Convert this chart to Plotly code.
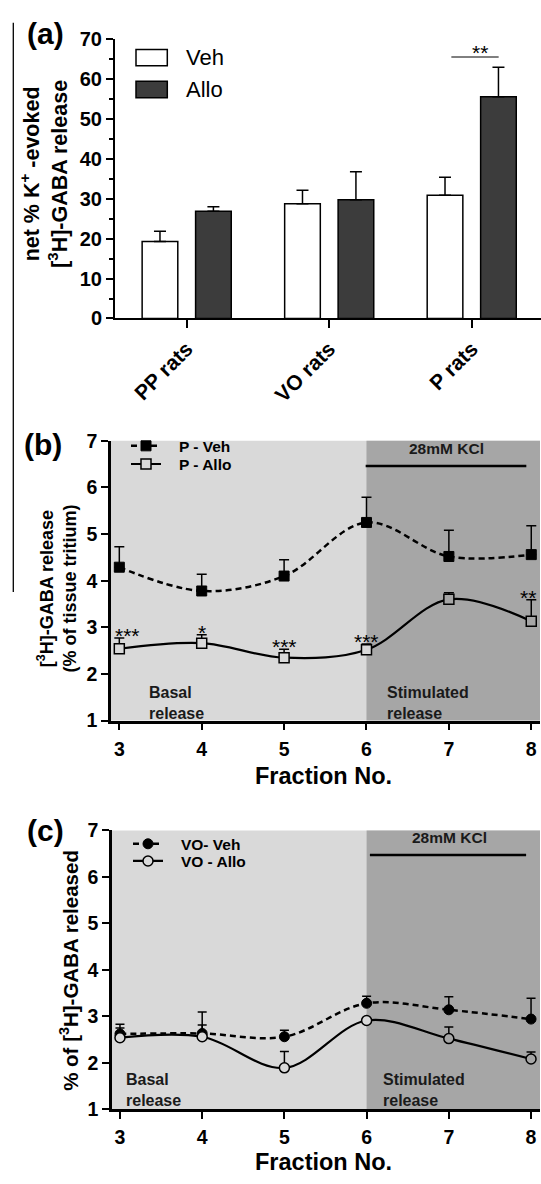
import plotly.graph_objects as go

# ---------------- data ----------------
# panel (a)
groups = ["PP rats", "VO rats", "P rats"]
veh_a = [19.3, 28.8, 30.9]
veh_a_err = [2.6, 3.4, 4.5]
allo_a = [26.9, 29.8, 55.6]
allo_a_err = [1.1, 7.0, 7.4]

# panel (b)
fractions = [3, 4, 5, 6, 7, 8]
p_veh = [4.29, 3.78, 4.10, 5.25, 4.52, 4.56]
p_veh_err = [0.44, 0.36, 0.35, 0.54, 0.56, 0.62]
p_allo = [2.54, 2.66, 2.35, 2.52, 3.60, 3.13]
p_allo_err = [0.23, 0.18, 0.18, 0.12, 0.14, 0.46]
p_sig = ["***", "*", "***", "***", "", "**"]

# panel (c)
vo_veh = [2.62, 2.63, 2.56, 3.28, 3.14, 2.94]
vo_veh_err = [0.21, 0.46, 0.14, 0.15, 0.28, 0.45]
vo_allo = [2.54, 2.56, 1.89, 2.91, 2.52, 2.08]
vo_allo_err = [0.21, 0.25, 0.35, 0.04, 0.25, 0.15]

# ---------------- layout helpers ----------------
W, H = 541, 1184
FONT = "Liberation Sans"
LIGHT = "#d9d9d9"
DARK = "#a6a6a6"
ALLO_FILL = "#3c3c3c"


def px(x):
    return x / W


def py(y):
    return 1 - y / H


def up_err(vals):
    return dict(type="data", array=vals, arrayminus=[0] * len(vals), symmetric=False,
                color="black", thickness=1.5, width=5)


def bg_fill(xs):
    return [LIGHT if x <= 6 else DARK for x in xs]


XB = [2.899, 8.106]
XC = [2.903, 8.109]

fig = go.Figure()

# ---------- (a) bars ----------
fig.add_trace(go.Bar(x=groups, y=veh_a, name="Veh",
                     marker=dict(color="white", line=dict(color="black", width=1.5)),
                     error_y=dict(up_err(veh_a_err), width=6),
                     xaxis="x", yaxis="y", showlegend=False))
fig.add_trace(go.Bar(x=groups, y=allo_a, name="Allo",
                     marker=dict(color=ALLO_FILL, line=dict(color="black", width=1.5)),
                     error_y=dict(up_err(allo_a_err), width=6),
                     xaxis="x", yaxis="y", showlegend=False))

NB = "&nbsp;&nbsp;&nbsp;"
# ---------- (b) ----------
fig.add_trace(go.Scatter(x=fractions, y=p_veh, mode="lines+markers", name=NB + "P - Veh",
                         line=dict(color="black", width=2.5, dash="6px,4px", shape="spline", smoothing=1),
                         marker=dict(symbol="square", size=10, color="black", line=dict(color="black", width=1)),
                         error_y=up_err(p_veh_err), xaxis="x2", yaxis="y2", legend="legend2"))
fig.add_trace(go.Scatter(x=fractions, y=p_allo, mode="lines+markers", name=NB + "P - Allo",
                         line=dict(color="black", width=2.2, shape="spline", smoothing=1),
                         marker=dict(symbol="square", size=10, color=bg_fill(fractions),
                                     line=dict(color="black", width=1.5)),
                         error_y=up_err(p_allo_err), xaxis="x2", yaxis="y2", legend="legend3"))

# ---------- (c) ----------
fig.add_trace(go.Scatter(x=fractions, y=vo_veh, mode="lines+markers", name=NB + "VO- Veh",
                         line=dict(color="black", width=2.5, dash="6px,4px", shape="spline", smoothing=1),
                         marker=dict(symbol="circle", size=10, color="black", line=dict(color="black", width=1)),
                         error_y=dict(up_err(vo_veh_err), width=4.5), xaxis="x3", yaxis="y3", legend="legend4"))
fig.add_trace(go.Scatter(x=fractions, y=vo_allo, mode="lines+markers", name=NB + "VO - Allo",
                         line=dict(color="black", width=2.2, shape="spline", smoothing=1),
                         marker=dict(symbol="circle", size=10, color=bg_fill(fractions),
                                     line=dict(color="black", width=1.5)),
                         error_y=dict(up_err(vo_allo_err), width=4.5), xaxis="x3", yaxis="y3", legend="legend5"))

tickfont = dict(family=FONT, size=19.5, color="black", weight="bold")
common_axis = dict(showline=True, linecolor="black", showgrid=False, zeroline=False,
                   ticks="outside", tickcolor="black")

legend_common = dict(xanchor="left", yanchor="middle", bgcolor="rgba(0,0,0,0)", borderwidth=0,
                     tracegroupgap=0, font=dict(family=FONT, size=15.5, color="black", weight="bold"))

fig.update_layout(
    width=W, height=H, margin=dict(l=0, r=0, t=0, b=0),
    paper_bgcolor="white", plot_bgcolor="white",
    font=dict(family=FONT, color="black"),
    barmode="group", bargap=0.25, bargroupgap=0.333,
    xaxis=dict(common_axis, domain=[px(115), 1], range=[-0.503, 2.486], type="category",
               linewidth=2, ticklen=8, tickwidth=1.5, tickangle=-45,
               tickfont=dict(tickfont, size=21), anchor="y"),
    yaxis=dict(common_axis, domain=[py(313.3), py(29)], range=[0, 70], dtick=10,
               linewidth=2, ticklen=7, tickwidth=2, tickfont=dict(tickfont, size=20), anchor="x",
               minor=dict(dtick=5, ticks="outside", ticklen=4, tickwidth=1.5, tickcolor="black", showgrid=False)),
    xaxis2=dict(common_axis, domain=[px(111), px(540)], range=XB, dtick=1,
                linewidth=2.5, ticklen=7, tickwidth=2, tickfont=tickfont, anchor="y2", ticklabelstandoff=2),
    yaxis2=dict(common_axis, domain=[py(723), py(438)], range=[1, 7], dtick=1,
                linewidth=2.5, ticklen=7, tickwidth=2, tickfont=tickfont, anchor="x2"),
    xaxis3=dict(common_axis, domain=[px(112), px(540)], range=XC, dtick=1,
                linewidth=2.5, ticklen=7, tickwidth=2, tickfont=tickfont, anchor="y3", ticklabelstandoff=2),
    yaxis3=dict(common_axis, domain=[py(1119), py(835)], range=[1, 7], dtick=1,
                linewidth=2.5, ticklen=7, tickwidth=2, tickfont=tickfont, anchor="x3"),
    legend2=dict(legend_common, x=px(126), y=py(443.5)),
    legend3=dict(legend_common, x=px(126), y=py(462)),
    legend4=dict(legend_common, x=px(128), y=py(849)),
    legend5=dict(legend_common, x=px(128), y=py(866.5)),
)

shapes = []
# shaded regions
for xr, yr, rng in (("x2", "y2", XB), ("x3", "y3", XC)):
    shapes.append(dict(type="rect", xref=xr + " domain", yref=yr + " domain", x0=0, x1=1, y0=0, y1=1,
                       fillcolor=LIGHT, line=dict(width=0), layer="below"))
    shapes.append(dict(type="rect", xref=xr, yref=yr + " domain", x0=6, x1=rng[1], y0=0, y1=1,
                       fillcolor=DARK, line=dict(width=0), layer="below"))
# KCl bars
shapes.append(dict(type="line", xref="x2", yref="y2", x0=5.99, x1=7.94, y0=6.46, y1=6.46,
                   line=dict(color="black", width=2.5)))
shapes.append(dict(type="line", xref="x3", yref="y3", x0=6.04, x1=7.94, y0=6.47, y1=6.47,
                   line=dict(color="black", width=2.5)))
# significance bracket (a)
shapes.append(dict(type="line", xref="x", yref="y", x0=1.857, x1=2.189, y0=65.6, y1=65.6,
                   line=dict(color="black", width=1)))
# legend boxes (a)
shapes.append(dict(type="rect", xref="paper", yref="paper", x0=px(136), x1=px(167.3), y0=py(55.7), y1=py(39.3),
                   fillcolor="white", line=dict(color="black", width=1.5)))
shapes.append(dict(type="rect", xref="paper", yref="paper", x0=px(136), x1=px(167.3), y0=py(88.3), y1=py(71.7),
                   fillcolor=ALLO_FILL, line=dict(color="black", width=1.5)))
# left vertical rule
shapes.append(dict(type="line", xref="paper", yref="paper", x0=px(13.3), x1=px(13.3), y0=py(12), y1=py(592),
                   line=dict(color="black", width=1.3)))

ann = []
bold = dict(family=FONT, color="black", weight="bold")
# panel labels
for lab, x, y in (("(a)", 45.5, 22.5), ("(b)", 42.5, 441.7), ("(c)", 45.7, 835)):
    ann.append(dict(text=lab, xref="paper", yref="paper", x=px(x), y=py(y), xanchor="center", yanchor="middle",
                    showarrow=False, font=dict(bold, size=30)))
# legend texts (a)
ann.append(dict(text="Veh", xref="paper", yref="paper", x=px(184), y=py(47.5), xanchor="left", yanchor="middle",
                showarrow=False, font=dict(family=FONT, size=22, color="black")))
ann.append(dict(text="Allo", xref="paper", yref="paper", x=px(184), y=py(80), xanchor="left", yanchor="middle",
                showarrow=False, font=dict(family=FONT, size=22, color="black")))
# stars (a)
ann.append(dict(text="**", xref="x", yref="y", x=2.055, y=65.6, yshift=4.4, xanchor="center", yanchor="middle",
                showarrow=False, font=dict(family=FONT, size=21, color="black")))
# axis titles
ann.append(dict(text="net % K<sup>+</sup> -evoked<br>[<sup>3</sup>H]-GABA release", xref="paper", yref="paper",
                x=px(44), y=py(166), textangle=-90, xanchor="center", yanchor="middle", showarrow=False,
                font=dict(bold, size=21.5)))
ann.append(dict(text="[<sup>3</sup>H]-GABA release<br>(% of tissue tritium)", xref="paper", yref="paper",
                x=px(57.5), y=py(589), textangle=-90, xanchor="center", yanchor="middle", showarrow=False,
                font=dict(bold, size=18)))
ann.append(dict(text="% of [<sup>3</sup>H]-GABA released", xref="paper", yref="paper",
                x=px(69), y=py(978), textangle=-90, xanchor="center", yanchor="middle", showarrow=False,
                font=dict(bold, size=20.5)))
for y in (779, 1173):
    ann.append(dict(text="Fraction No.", xref="paper", yref="paper", x=px(323.5), y=py(y),
                    xanchor="center", yanchor="middle", showarrow=False, font=dict(bold, size=23.5)))
# in-plot labels
for xr, yr, kx, ky, bx, sx, ty in (("x2", "y2", 6.97, 6.83, 3.34, 6.23, 1.38),
                                   ("x3", "y3", 7.01, 6.84, 3.05, 6.18, 1.42)):
    ann.append(dict(text="28mM KCl", xref=xr, yref=yr, x=kx, y=ky, xanchor="center", yanchor="middle",
                    showarrow=False, font=dict(bold, size=15.5, color="#1a1a1a")))
    ann.append(dict(text="Basal<br>release", xref=xr, yref=yr, x=bx, y=ty, xanchor="left", yanchor="middle",
                    align="left", showarrow=False, font=dict(bold, size=16, color="#1a1a1a")))
    ann.append(dict(text="Stimulated<br>release", xref=xr, yref=yr, x=sx, y=ty, xanchor="left", yanchor="middle",
                    align="left", showarrow=False, font=dict(bold, size=16, color="#1a1a1a")))
# significance stars (b)
xshifts = [8, 0, 0, 0, 0, -3]
for i, s in enumerate(p_sig):
    if s:
        ann.append(dict(text=s, xref="x2", yref="y2", x=fractions[i], y=p_allo[i] + p_allo_err[i],
                        xshift=xshifts[i], yshift=2.4, xanchor="center", yanchor="middle", showarrow=False,
                        font=dict(family=FONT, size=21, color="black")))

fig.update_layout(shapes=shapes, annotations=ann)
fig.write_html("out.html")
